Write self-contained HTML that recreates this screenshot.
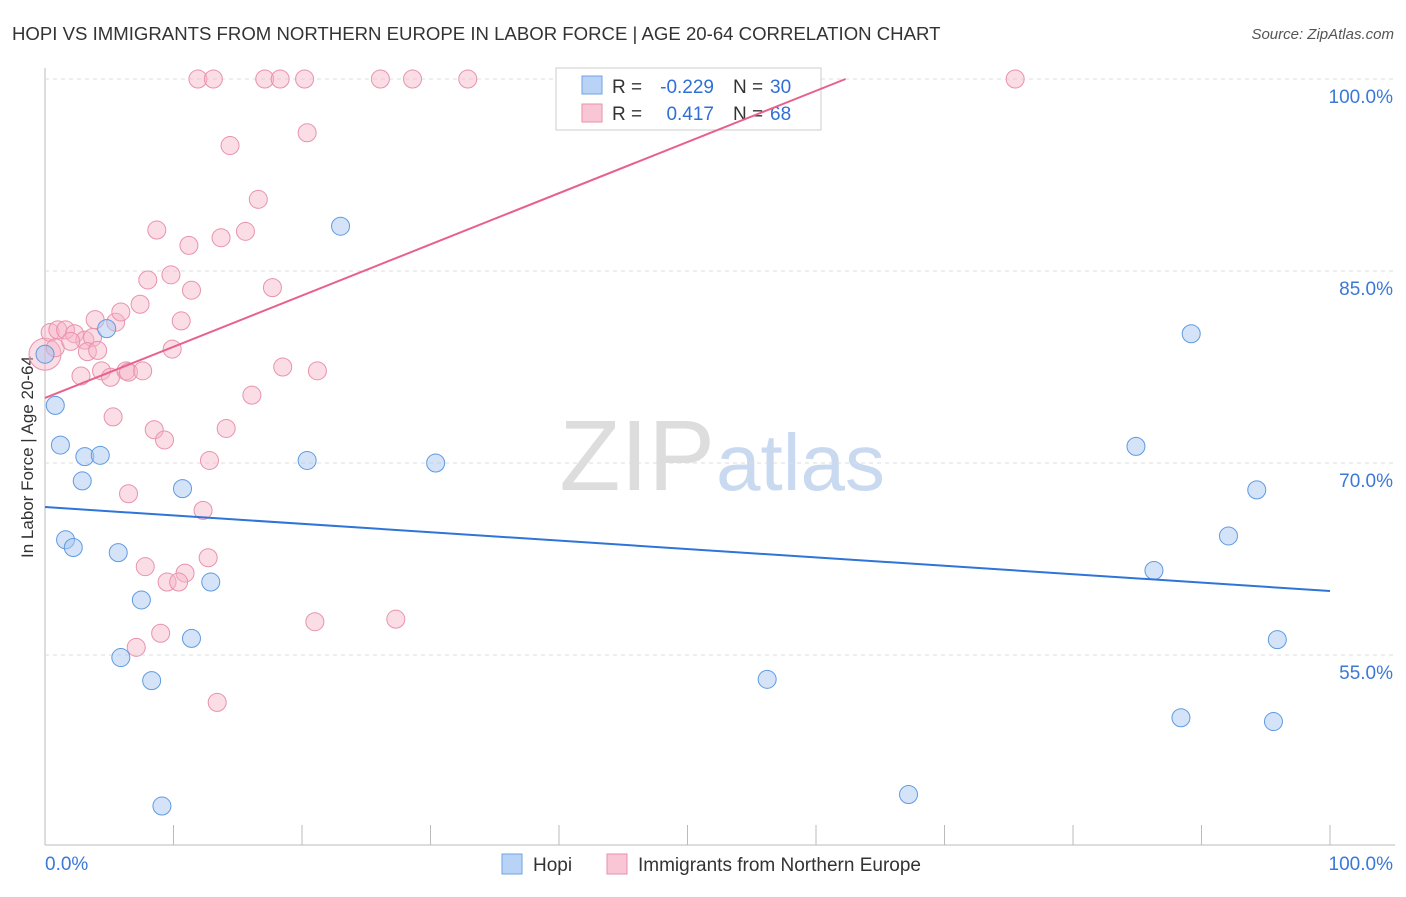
<!DOCTYPE html>
<html><head><meta charset="utf-8"><style>
body{margin:0;background:#fff;font-family:"Liberation Sans",sans-serif;}
svg text{font-family:"Liberation Sans",sans-serif;}
</style></head><body>
<svg id="chart" width="1406" height="892">
<text x="12" y="40" font-size="18.6" fill="#333">HOPI VS IMMIGRANTS FROM NORTHERN EUROPE IN LABOR FORCE | AGE 20-64 CORRELATION CHART</text>
<text x="1394" y="39" font-size="15" fill="#555" font-style="italic" text-anchor="end">Source: ZipAtlas.com</text>
<text x="33" y="457" font-size="17" fill="#333" text-anchor="middle" transform="rotate(-90 33 457)">In Labor Force | Age 20-64</text>
<text x="715" y="490" font-size="100" fill="#ddd" text-anchor="end" font-family="Liberation Serif">ZIP</text>
<text x="716" y="490" font-size="80" fill="#c8d9f0">atlas</text>
<g id="grid"></g><g id="pts"></g>
<g>
<rect x="556" y="68" width="265" height="62" fill="#fff" stroke="#ccc"/>
<rect x="582" y="76" width="20" height="18" fill="#b8d3f5" stroke="#6fa3e0"/>
<text x="612" y="93" font-size="19" fill="#333">R =</text>
<text x="714" y="93" font-size="19" fill="#2f6fd6" text-anchor="end">-0.229</text>
<text x="733" y="93" font-size="19" fill="#333">N =</text>
<text x="770" y="93" font-size="19" fill="#2f6fd6">30</text>
<rect x="582" y="104" width="20" height="18" fill="#f9c6d5" stroke="#ea8fac"/>
<text x="612" y="120" font-size="19" fill="#333">R =</text>
<text x="714" y="120" font-size="19" fill="#2f6fd6" text-anchor="end">0.417</text>
<text x="733" y="120" font-size="19" fill="#333">N =</text>
<text x="770" y="120" font-size="19" fill="#2f6fd6">68</text>
</g>
<g id="lines"></g>
<g>
<rect x="502" y="854" width="20" height="20" fill="#b8d3f5" stroke="#6fa3e0"/>
<text x="533" y="871" font-size="19" fill="#333">Hopi</text>
<rect x="607" y="854" width="20" height="20" fill="#f9c6d5" stroke="#ea8fac"/>
<text x="638" y="871" font-size="19" fill="#333">Immigrants from Northern Europe</text>
</g>
<text x="45" y="870" font-size="19" fill="#3b78d8">0.0%</text>
<text x="1393" y="870" font-size="19" fill="#3b78d8" text-anchor="end">100.0%</text>
</svg>
<script>
const yTicks=[100,85,70,55];
const yTickLabels=["100.0%","85.0%","70.0%","55.0%"];
const hopiX=[0,0.8,1.2,3.1,4.3,2.9,1.6,2.2,4.8,5.7,7.5,5.9,8.3,11.4,12.9,10.7,9.1,20.4,23,30.4,56.2,67.2,84.9,86.3,89.2,92.1,94.3,95.9,88.4,95.6];
const hopiY=[78.5,74.5,71.4,70.5,70.6,68.6,64,63.4,80.5,63,59.3,54.8,53,56.3,60.7,68,43.2,70.2,88.5,70,53.1,44.1,71.3,61.6,80.1,64.3,67.9,56.2,50.1,49.8];
const neX=[0,0.4,1,1.6,2.3,3.1,3.7,0.8,2,3.3,4.1,2.8,4.4,5.1,3.9,5.5,5.9,6.3,6.5,7.6,7.4,8,9.8,8.7,11.2,10.6,9.9,11.4,13.7,15.6,16.6,14.4,11.9,13.1,17.1,18.3,20.2,26.1,28.6,32.9,75.5,20.4,17.7,18.5,21.2,16.1,14.1,5.3,8.5,9.3,12.8,6.5,12.3,12.7,7.8,10.9,9.5,10.4,9,7.1,13.4,21,27.3];
const neY=[78.5,80.2,80.4,80.4,80.1,79.6,79.8,79,79.5,78.7,78.8,76.8,77.2,76.7,81.2,81,81.8,77.2,77.1,77.2,82.4,84.3,84.7,88.2,87,81.1,78.9,83.5,87.6,88.1,90.6,94.8,100,100,100,100,100,100,100,100,100,95.8,83.7,77.5,77.2,75.3,72.7,73.6,72.6,71.8,70.2,67.6,66.3,62.6,61.9,61.4,60.7,60.7,56.7,55.6,51.3,57.6,57.8];
const X0=45,X1=1330,svgNS="http://www.w3.org/2000/svg";
function xs(v){return X0+(X1-X0)*v/100;}
function ys(v){return 79+(100-v)*12.8;}
function mk(t,a,p){const e=document.createElementNS(svgNS,t);for(const k in a)e.setAttribute(k,a[k]);p.appendChild(e);return e;}
const grid=document.getElementById('grid');
mk('line',{x1:45,y1:68,x2:45,y2:845,stroke:'#bbb'},grid);
mk('line',{x1:45,y1:845,x2:1395,y2:845,stroke:'#bbb'},grid);
yTicks.forEach((t,i)=>{
 const l=mk('line',{x1:45,y1:ys(t),x2:1395,y2:ys(t),stroke:'#ddd','stroke-dasharray':'4,4'},grid);
 
 
 const tx=mk('text',{x:1393,y:ys(t)+24,'font-size':19,fill:'#3b78d8','text-anchor':'end'},grid);
 tx.textContent=yTickLabels[i];
 
 
});
for(let i=0;i<=10;i++){const l=mk('line',{x1:xs(i*10),y1:825,x2:xs(i*10),y2:845,stroke:'#bbb'},grid);
 
 }
const pts=document.getElementById('pts');
neX.forEach((x,i)=>{const r=(i==0)?16:9;const c=mk('circle',{cx:xs(x),cy:ys(neY[i]),r:r,fill:'rgba(247,180,200,0.45)',stroke:'#e992ae','stroke-width':1},pts);
 
 });
hopiX.forEach((x,i)=>{const c=mk('circle',{cx:xs(x),cy:ys(hopiY[i]),r:9,fill:'rgba(170,200,240,0.5)',stroke:'#5e9be2','stroke-width':1},pts);
 
 });
const lines=document.getElementById('lines');
const bl=mk('line',{x1:xs(0),y1:ys(66.56),x2:xs(100),y2:ys(60),stroke:'#2f74d8','stroke-width':2},lines);


const pInt=75.08,pSlope=0.4,xEnd=(100-pInt)/pSlope;
const pl=mk('line',{x1:xs(0),y1:ys(pInt),x2:xs(xEnd),y2:ys(100),stroke:'#e8608c','stroke-width':2},lines);


</script>
</body></html>
